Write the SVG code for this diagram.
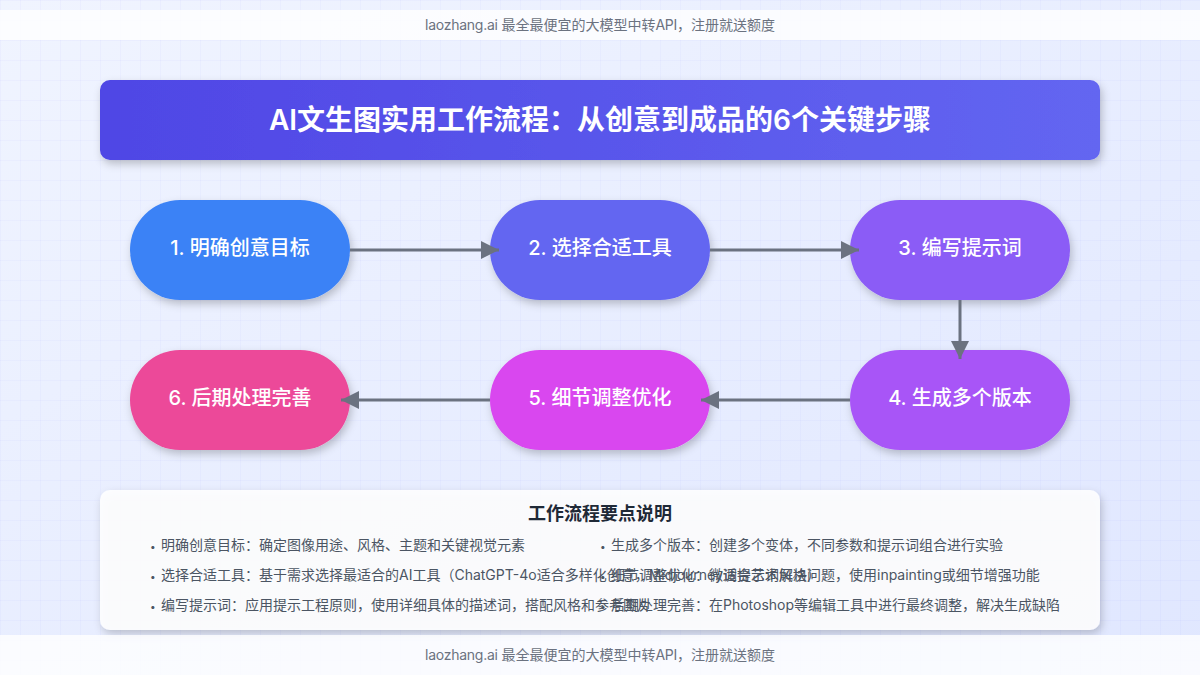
<svg xmlns="http://www.w3.org/2000/svg" width="1200" height="675" viewBox="0 0 1200 675">
<defs>
<linearGradient id="bg" x1="0" y1="0" x2="1" y2="1"><stop offset="0" stop-color="#f0f4ff"/><stop offset="1" stop-color="#e0e7ff"/></linearGradient>
<linearGradient id="head" x1="0" y1="0" x2="1" y2="0"><stop offset="0" stop-color="#4f46e5"/><stop offset="1" stop-color="#6366f1"/></linearGradient>
<pattern id="grid" width="20" height="20" patternUnits="userSpaceOnUse"><path d="M20 0H0V20" fill="none" stroke="#6366f1" stroke-opacity="0.08" stroke-width="1"/></pattern>
<filter id="sh" x="-20%" y="-30%" width="140%" height="160%"><feDropShadow dx="2" dy="4" stdDeviation="4" flood-color="#000" flood-opacity="0.22"/></filter>
<marker id="arr" markerUnits="userSpaceOnUse" markerWidth="20" markerHeight="20" refX="18" refY="9" orient="auto"><path d="M0 0L18 9L0 18Z" fill="#6b7280"/></marker>
</defs>
<style>
text{font-family:Inter,"Noto Sans CJK SC",sans-serif}
.bar{fill:#fff;fill-opacity:.8}
.foot{font-size:14px;fill:#6b7280;text-anchor:middle}
.lat{letter-spacing:-.25px}
.node{font-size:20px;font-weight:500;fill:#fff;text-anchor:middle}
.conn{stroke:#6b7280;stroke-width:3;fill:none;marker-end:url(#arr)}
.li{font-size:14px;fill:#4b5563}
.b{font-size:10px}
</style>
<rect width="1200" height="675" fill="url(#bg)"/>
<rect width="1200" height="675" fill="url(#grid)"/>
<g id="top-banner"><rect class="bar" x="0" y="10" width="1200" height="30"/><text class="foot" x="600" y="30"><tspan class="lat">laozhang.ai </tspan>最全最便宜的大模型中转<tspan class="lat">API</tspan>，注册就送额度</text></g>
<g id="title"><rect x="100" y="80" width="1000" height="80" rx="10" fill="url(#head)" filter="url(#sh)"/><text x="600" y="130" font-size="28" font-weight="600" fill="#fff" text-anchor="middle">AI文生图实用工作流程：从创意到成品的6个关键步骤</text></g>
<g id="node1"><rect x="130" y="200" width="220" height="100" rx="50" fill="#3b82f6" filter="url(#sh)"/><text class="node" x="240" y="255">1. 明确创意目标</text></g>
<g id="node2"><rect x="490" y="200" width="220" height="100" rx="50" fill="#6366f1" filter="url(#sh)"/><text class="node" x="600" y="255">2. 选择合适工具</text></g>
<g id="node3"><rect x="850" y="200" width="220" height="100" rx="50" fill="#8b5cf6" filter="url(#sh)"/><text class="node" x="960" y="255">3. 编写提示词</text></g>
<g id="node4"><rect x="850" y="350" width="220" height="100" rx="50" fill="#a855f7" filter="url(#sh)"/><text class="node" x="960" y="405">4. 生成多个版本</text></g>
<g id="node5"><rect x="490" y="350" width="220" height="100" rx="50" fill="#d946ef" filter="url(#sh)"/><text class="node" x="600" y="405">5. 细节调整优化</text></g>
<g id="node6"><rect x="130" y="350" width="220" height="100" rx="50" fill="#ec4899" filter="url(#sh)"/><text class="node" x="240" y="405">6. 后期处理完善</text></g>
<g id="connectors">
<path class="conn" d="M350 250H499"/>
<path class="conn" d="M710 250H859"/>
<path class="conn" d="M960 300V359"/>
<path class="conn" d="M850 400H701"/>
<path class="conn" d="M490 400H341"/>
</g>
<g id="notes"><rect x="100" y="490" width="1000" height="140" rx="10" fill="#fff" fill-opacity=".88" filter="url(#sh)"/>
<text x="600" y="520" font-size="18" font-weight="600" fill="#1f2937" text-anchor="middle">工作流程要点说明</text>
<text class="li" x="150" y="550"><tspan class="b">•</tspan><tspan x="161">明确创意目标：确定图像用途、风格、主题和关键视觉元素</tspan></text>
<text class="li" x="150" y="580"><tspan class="b">•</tspan><tspan x="161">选择合适工具：基于需求选择最适合的AI工具（ChatGPT-4o适合多样化创意，Midjourney适合艺术风格）</tspan></text>
<text class="li" x="150" y="610"><tspan class="b">•</tspan><tspan x="161">编写提示词：应用提示工程原则，使用详细具体的描述词，搭配风格和参考图片</tspan></text>
<text class="li" x="600" y="550"><tspan class="b">•</tspan><tspan x="611">生成多个版本：创建多个变体，不同参数和提示词组合进行实验</tspan></text>
<text class="li" x="600" y="580"><tspan class="b">•</tspan><tspan x="611">细节调整优化：微调提示词解决问题，使用inpainting或细节增强功能</tspan></text>
<text class="li" x="600" y="610"><tspan class="b">•</tspan><tspan x="611">后期处理完善：在Photoshop等编辑工具中进行最终调整，解决生成缺陷</tspan></text>
</g>
<g id="bottom-banner"><rect class="bar" x="0" y="635" width="1200" height="40"/><text class="foot" x="600" y="660"><tspan class="lat">laozhang.ai </tspan>最全最便宜的大模型中转<tspan class="lat">API</tspan>，注册就送额度</text></g>
</svg>
